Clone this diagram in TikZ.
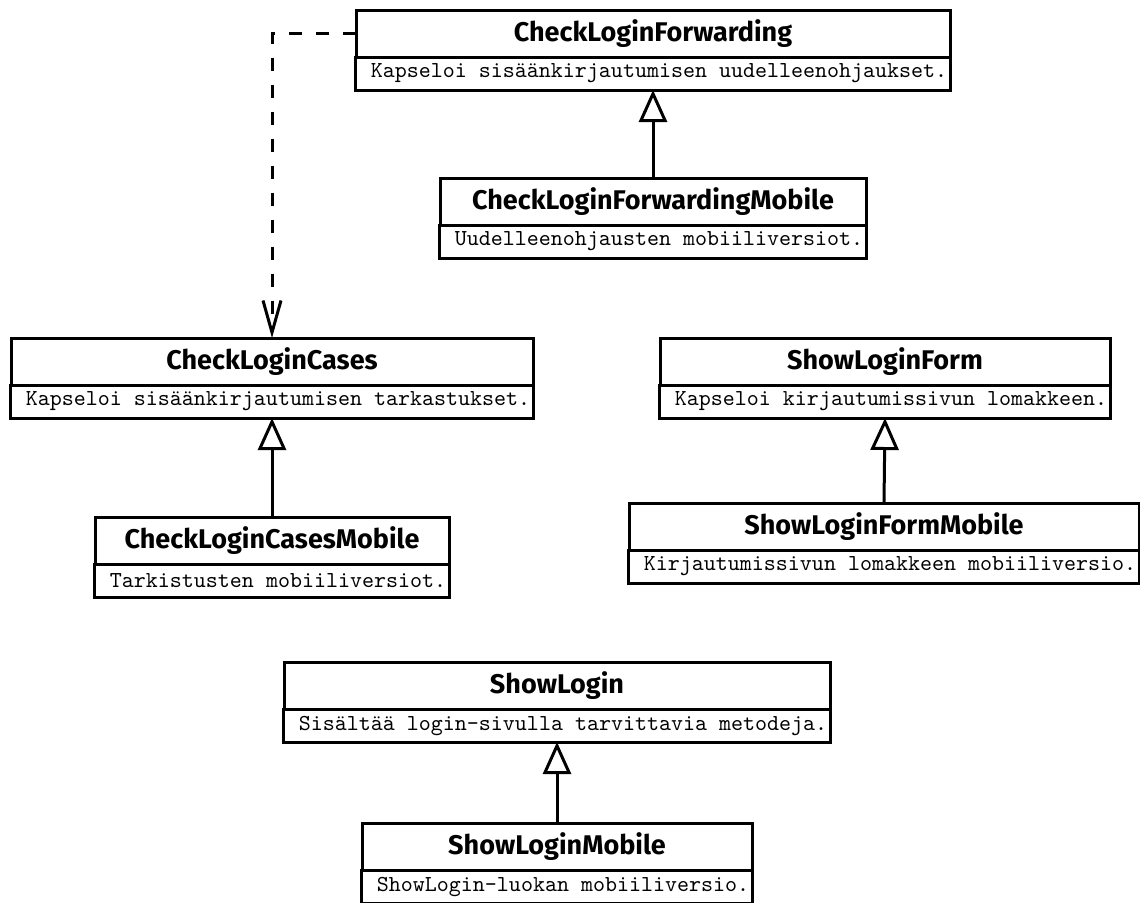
\documentclass[tikz,border=0pt]{standalone}
\usepackage{fontspec}
\usepackage{tikz}
\usetikzlibrary{arrows.meta}
\newfontfamily\headfont{Fira Sans}
\newfontfamily\descfont{lmmono10-regular.otf}
\tikzset{
  box/.style={draw=black, line width=1.5pt, anchor=north, inner sep=0pt, outer sep=0pt},
  head/.style={box, minimum height=23.5pt, font=\headfont\bfseries\fontsize{13.5}{15}\selectfont},
  desc/.style={box, minimum height=16.5pt, inner xsep=1.5pt, font=\descfont\fontsize{11.43}{13}\selectfont},
  inh/.style={draw=black, line width=1.5pt, -{Triangle[open, length=16pt, width=14pt]}},
  dep/.style={draw=black, line width=1.5pt, dash pattern=on 6.5pt off 7pt, -{Straight Barb[length=16pt, width=9pt]}},
}
\begin{document}
\begin{tikzpicture}[x=0.5pt, y=-0.5pt]
  \useasboundingbox (0,0) rectangle (1140,902);
  % name / centre x / top y / width / title / text
  \foreach \n/\x/\y/\w/\t/\d in {
    clf/653/10/594/CheckLoginForwarding/Kapseloi sisäänkirjautumisen uudelleenohjaukset.,
    clfm/653/178/426/CheckLoginForwardingMobile/Uudelleenohjausten mobiiliversiot.,
    clc/272/338/522/CheckLoginCases/Kapseloi sisäänkirjautumisen tarkastukset.,
    clcm/272/517/354/CheckLoginCasesMobile/Tarkistusten mobiiliversiot.,
    slf/885/338/450/ShowLoginForm/Kapseloi kirjautumissivun lomakkeen.,
    slfm/884/503/510/ShowLoginFormMobile/Kirjautumissivun lomakkeen mobiiliversio.,
    sl/557/662/546/ShowLogin/Sisältää login-sivulla tarvittavia metodeja.,
    slm/557/823/390/ShowLoginMobile/ShowLogin-luokan mobiiliversio.}
  {
    \node[head, minimum width=\w*0.5pt] (\n) at (\x,\y) {\t};
    \node[desc, minimum width=\w*0.5pt] (\n-d) at (\n.south) {\ \d};
  }
  % inheritance
  \foreach \c/\p in {clfm/clf, clcm/clc, slfm/slf, slm/sl}
    \draw[inh] (\c.north) -- (\p-d.south);
  % dependency
  \draw[dep] (clf.west) -| (clc.north);
\end{tikzpicture}
\end{document}
